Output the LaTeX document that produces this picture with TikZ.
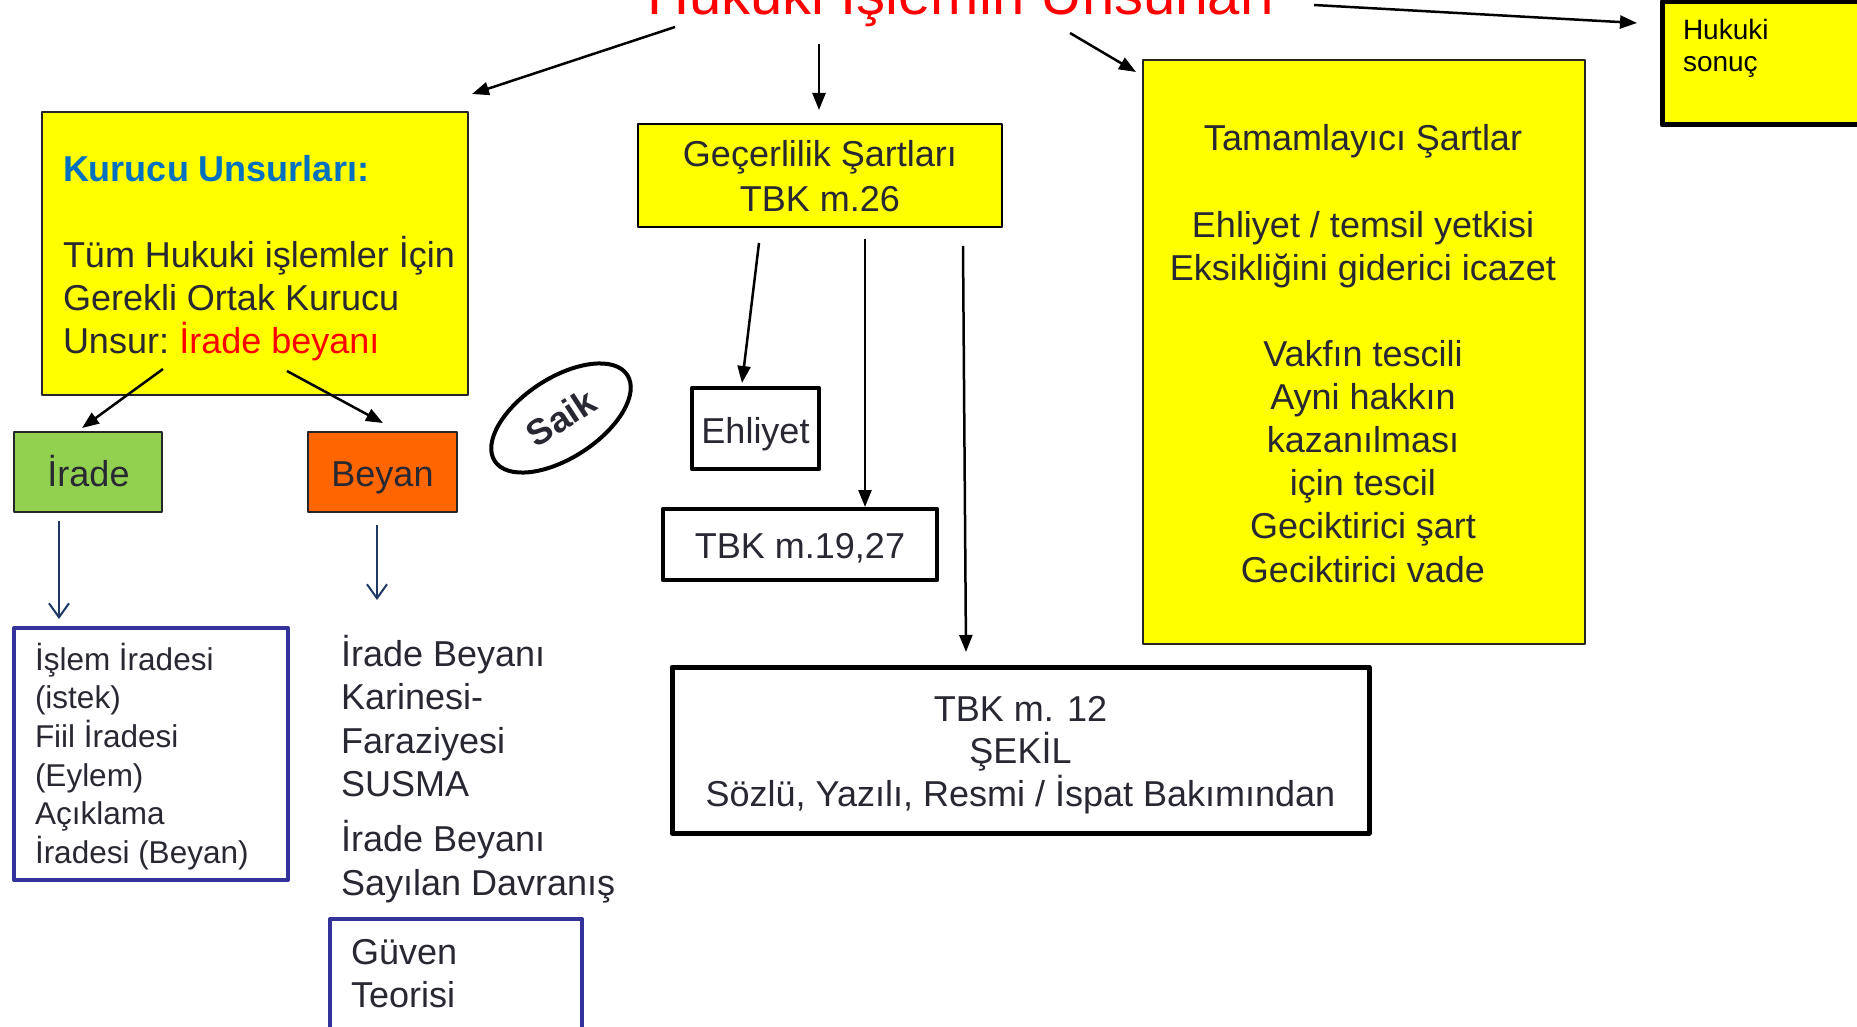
\documentclass[tikz,border=0pt]{standalone}
\usepackage{fontspec}
\setmainfont{Liberation Sans}
\usetikzlibrary{arrows.meta,shapes.geometric}
\definecolor{dtext}{RGB}{40,40,50}
\definecolor{yel}{RGB}{255,255,0}
\definecolor{grn}{RGB}{146,208,80}
\definecolor{org}{RGB}{255,102,0}
\definecolor{kblue}{RGB}{0,112,192}
\definecolor{navy}{RGB}{31,56,100}
\definecolor{indig}{RGB}{51,51,153}
\newcommand\setfs[2]{\fontsize{#1pt}{#2pt}\selectfont}
\begin{document}
\begin{tikzpicture}[x=1pt,y=-1pt,
  box/.style={draw, inner sep=0pt, outer sep=0pt, line join=round},
  thinbox/.style={box, line width=1.5pt, draw=black!85},
  thickbox/.style={box, line width=4.5pt, fill=white},
  blubox/.style={box, line width=4pt, draw=indig, fill=white},
  tx/.style={inner sep=0pt, outer sep=0pt, text=dtext, font=\setfs{36}{43.2}},
  arr/.style={line width=2.5pt, -{Triangle[length=17pt,width=13pt]}},
  barr/.style={line width=2pt, draw=navy, -{Straight Barb[length=14pt,width=20pt,line width=2pt]}},
]
\useasboundingbox (0,0) rectangle (1857,1027);
\fill[white] (0,0) rectangle (1857,1027);
\clip (0,0) rectangle (1857,1027);

% title
\node[tx, font=\setfs{58}{60}, text=red, anchor=base] (title) at (961.5,15) {Hukuki İşlemin Unsurları};

% Kurucu unsurlar
\node[thinbox, fill=yel, minimum width=426pt, minimum height=283pt] (kur) at (255,253.5) {};
\node[tx, anchor=base west] (kurT) at (63,182) {\parbox[t]{400pt}{\raggedright\textcolor{kblue}{\bfseries Kurucu Unsurları:}\\[42pt]Tüm Hukuki işlemler İçin\\Gerekli Ortak Kurucu\\Unsur:\kern-3pt{} \textcolor{red}{İrade beyanı}}};

\node[thinbox, fill=grn, minimum width=148pt, minimum height=80pt] (ira) at (88,472) {};
\node[tx, anchor=base] (iraT) at (88.5,486) {İrade};
\node[thinbox, fill=org, minimum width=149pt, minimum height=80pt] (bey) at (382.5,472) {};
\node[tx, anchor=base] (beyT) at (382.5,486) {Beyan};

\node[blubox, minimum width=274pt, minimum height=252pt] (isl) at (151,754) {};
\node[tx, font=\setfs{31.5}{38.7}, anchor=base west] (islT) at (35,670) {\parbox[t]{250pt}{\raggedright İşlem İradesi\\(istek)\\Fiil İradesi\\(Eylem)\\Açıklama\\İradesi (Beyan)}};

\node[tx, font=\setfs{36}{43.6}, anchor=base west] (beyL) at (341,666) {\parbox[t]{300pt}{\raggedright İrade Beyanı\\Karinesi-\\Faraziyesi\\SUSMA\\[11pt]İrade Beyanı\\Sayılan Davranış}};

\node[blubox, minimum width=252pt, minimum height=130pt] (guv) at (456,984) {};
\node[tx, font=\setfs{36}{43}, anchor=base west] (guvT) at (351,964) {\parbox[t]{200pt}{\raggedright Güven\\Teorisi}};

\node[draw, ellipse, line width=4pt, minimum width=158pt, minimum height=80pt, rotate=33, inner sep=0pt, text=dtext, font=\bfseries\setfs{36}{36}] (saik) at (561,418) {Saik};

% Gecerlilik
\node[box, line width=2pt, fill=yel, minimum width=364pt, minimum height=103pt] (gec) at (820,175.5) {};
\node[tx, font=\setfs{36}{45}, anchor=base] (gecT) at (820,167) {\parbox[t]{360pt}{\centering Geçerlilik Şartları\\TBK m.26}};

\node[thickbox, minimum width=127pt, minimum height=81pt] (ehl) at (755.5,428.5) {};
\node[tx, anchor=base] (ehlT) at (755.5,443) {Ehliyet};
\node[thickbox, minimum width=274pt, minimum height=71pt] (t19) at (800,544.5) {};
\node[tx, anchor=base] (t19T) at (800,558) {TBK m.19,27};
\node[thickbox, line width=5pt, minimum width=697pt, minimum height=166pt] (t12) at (1020.5,750) {};
\node[tx, font=\setfs{36}{42.5}, anchor=base] (t12T) at (1020.5,721) {\parbox[t]{680pt}{\centering TBK m. 12\\ŞEKİL\\Sözlü, Yazılı, Resmi / İspat Bakımından}};

% Tamamlayici
\node[thinbox, fill=yel, minimum width=442pt, minimum height=584pt] (tam) at (1364,352) {};
\node[tx, anchor=base] (tamT) at (1363,151) {\parbox[t]{430pt}{\centering Tamamlayıcı Şartlar\\[43pt]Ehliyet / temsil yetkisi\\Eksikliğini giderici icazet\\[42.5pt]Vakfın tescili\\Ayni hakkın\\kazanılması\\için tescil\\Geciktirici şart\\Geciktirici vade}};

% Hukuki sonuc
\node[thickbox, line width=5pt, fill=yel, minimum width=218pt, minimum height=123pt] (huk) at (1771,63.5) {};
\node[tx, text=black, font=\setfs{28}{32}, anchor=base west] (hukT) at (1683,40) {\parbox[t]{150pt}{\raggedright Hukuki\\sonuç}};

% connector ends
\coordinate (s1) at (675,27);   \coordinate (e1) at (472,94);
\coordinate (s2) at (819,44);   \coordinate (e2) at (819,110);
\coordinate (s3) at (1070,33);  \coordinate (e3) at (1136,72);
\coordinate (s4) at (1314,5);   \coordinate (e4) at (1637,23);
\coordinate (s5) at (163,369);  \coordinate (e5) at (82,428);
\coordinate (s6) at (287,371);  \coordinate (e6) at (383,423);
\coordinate (s7) at (59,521);   \coordinate (e7) at (59,619);
\coordinate (s8) at (377,525);  \coordinate (e8) at (377,600);
\coordinate (s9) at (759,243);  \coordinate (e9) at (742,383);
\coordinate (s10) at (865,239); \coordinate (e10) at (865,507);
\coordinate (s11) at (963,246); \coordinate (e11) at (966,652);

\draw[arr] (s1) -- (e1);
\draw[arr] (s2) -- (e2);
\draw[arr] (s3) -- (e3);
\draw[arr] (s4) -- (e4);
\draw[arr] (s5) -- (e5);
\draw[arr] (s6) -- (e6);
\draw[barr] (s7) -- (e7);
\draw[barr] (s8) -- (e8);
\draw[arr] (s9) -- (e9);
\draw[arr] (s10) -- (e10);
\draw[arr] (s11) -- (e11);
\end{tikzpicture}
\end{document}
